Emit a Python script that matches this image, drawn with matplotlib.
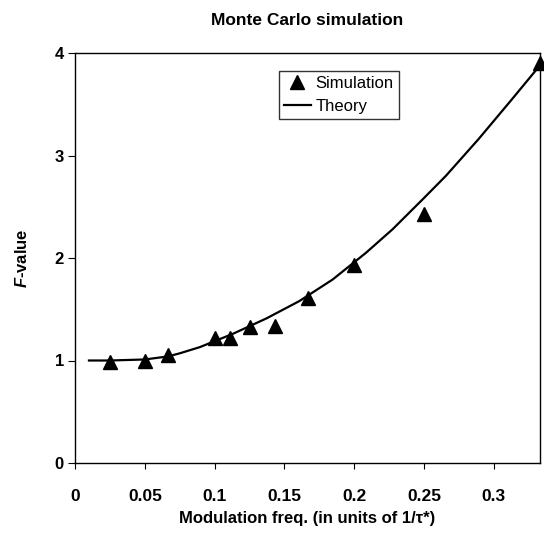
import matplotlib
matplotlib.use('Agg')
import matplotlib.pyplot as plt

plt.rcParams['font.family'] = ['Liberation Sans', 'DejaVu Sans']
plt.rcParams['mathtext.fontset'] = 'custom'
plt.rcParams['mathtext.bfit'] = 'Liberation Sans:italic:bold'
plt.rcParams['mathtext.rm'] = 'Liberation Sans'

# simulation points (modulation freq in units of 1/tau*, F-value)
sim_freq = [0.025, 0.05, 0.0667, 0.1, 0.111, 0.125, 0.143, 0.167, 0.2, 0.25, 0.333]
sim_F = [0.99, 1.0, 1.05, 1.22, 1.22, 1.33, 1.34, 1.61, 1.93, 2.43, 3.90]

# theory curve
theory_freq = [0.01, 0.025, 0.05, 0.0667, 0.075, 0.0893, 0.113, 0.137, 0.1607,
               0.1845, 0.2083, 0.2274, 0.2488, 0.2655, 0.289, 0.313, 0.333]
theory_F = [1.0, 1.0, 1.01, 1.04, 1.07, 1.13, 1.26, 1.41, 1.58,
            1.79, 2.05, 2.28, 2.57, 2.80, 3.16, 3.55, 3.88]

xticks = [0, 0.05, 0.1, 0.15, 0.2, 0.25, 0.3]
xtick_labels = ['0', '0.05', '0.1', '0.15', '0.2', '0.25', '0.3']
yticks = [0, 1, 2, 3, 4]

fig = plt.figure(figsize=(5.44, 5.34), dpi=100)
ax = fig.add_axes([75/544, 71/534, 465/544, 410/534])

ax.plot(sim_freq, sim_F, linestyle='none', marker='^', color='black',
        markersize=9.5, label='Simulation', clip_on=False, zorder=3)
ax.plot(theory_freq, theory_F, color='black', linewidth=1.6, label='Theory')

ax.set_xlim(0, 0.333)
ax.set_ylim(0, 4)
ax.set_xticks(xticks)
ax.set_xticklabels(xtick_labels)
ax.set_yticks(yticks)

for s in ax.spines.values():
    s.set_linewidth(1.0)
ax.tick_params(axis='x', direction='out', length=4, pad=15, labelsize=12.5)
ax.tick_params(axis='y', direction='out', length=5, pad=3, labelsize=12)
for lab in ax.get_xticklabels() + ax.get_yticklabels():
    lab.set_fontweight('bold')

ax.set_title('Monte Carlo simulation', fontsize=12.5, fontweight='bold', pad=20)
ax.set_xlabel('Modulation freq. (in units of 1/τ*)', fontsize=12,
              fontweight='bold', labelpad=5)
ax.set_ylabel(r'$\mathbfit{F}$-value', fontsize=12, fontweight='bold',
              labelpad=18)

leg = ax.legend(loc='upper left', bbox_to_anchor=(204/465, 1 - 18/410),
                fontsize=12, frameon=True, fancybox=False, borderpad=0.3,
                handlelength=1.6, handletextpad=0.3, labelspacing=0.5,
                borderaxespad=0)
leg.get_frame().set_edgecolor('black')
leg.get_frame().set_linewidth(1.0)

fig.savefig('out.png', dpi=100)
